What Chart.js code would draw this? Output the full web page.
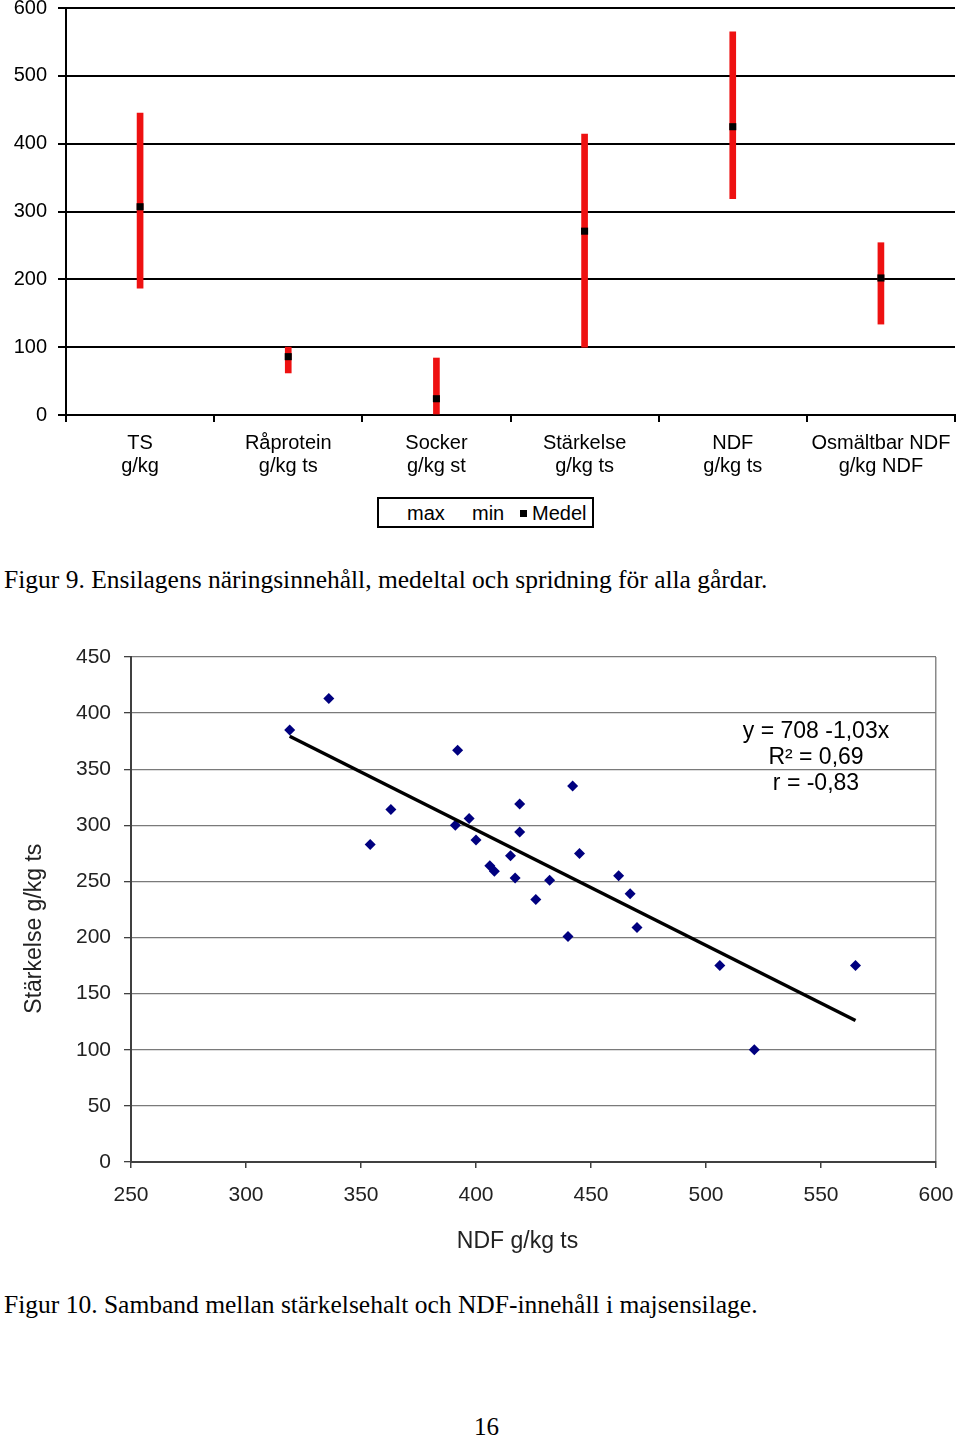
<!DOCTYPE html>
<html>
<head>
<meta charset="utf-8">
<script src="https://cdn.jsdelivr.net/npm/chart.js@4"></script>
<style>
  html, body { margin:0; padding:0; background:#fff; }
  body { width:960px; height:1438px; position:relative; overflow:hidden; font-family:"Liberation Sans", Arial, sans-serif; }
  .abs { position:absolute; }
  #c1wrap { left:0; top:0; width:960px; height:480px; }
  #c2wrap { left:0; top:640px; width:960px; height:620px; }
  #legend { left:377px; top:497px; width:213px; height:27px; border:2px solid #000; font-size:20px; color:#000; }
  #legend span { position:absolute; top:3px; }
  #legend .mk { position:absolute; top:11px; width:7px; height:7px; background:#000; }
  .cap { font-family:"Liberation Serif", "Times New Roman", serif; color:#000; white-space:nowrap; line-height:30px; }
  #eq { left:716px; top:717px; width:200px; text-align:center; font-size:23px; line-height:26px; color:#000; }
</style>
</head>
<body>
<div id="c1wrap" class="abs"><canvas id="c1" width="960" height="480"></canvas></div>
<div id="legend" class="abs"><span style="left:28px">max</span><span style="left:93px">min</span><div class="mk" style="left:141px"></div><span style="left:153px">Medel</span></div>
<div class="abs cap" style="left:4px; top:565px; font-size:25.5px;">Figur 9. Ensilagens näringsinnehåll, medeltal och spridning för alla gårdar.</div>
<div id="c2wrap" class="abs"><canvas id="c2" width="960" height="620"></canvas></div>
<div id="eq" class="abs">y = 708 -1,03x<br>R² = 0,69<br>r = -0,83</div>
<div class="abs cap" style="left:4px; top:1290px; font-size:25.5px;">Figur 10. Samband mellan stärkelsehalt och NDF-innehåll i majsensilage.</div>
<div class="abs cap" style="left:474px; top:1412px; font-size:25px;">16</div>
<script>
// ---------- Figure 9 data ----------
const categories = [["TS","g/kg"],["Råprotein","g/kg ts"],["Socker","g/kg st"],["Stärkelse","g/kg ts"],["NDF","g/kg ts"],["Osmältbar NDF","g/kg NDF"]];
const maxValues  = [445, 100, 84, 414, 565, 254];
const minValues  = [187, 62, 0, 100, 319, 134];
const meanValues = [307, 86, 24, 271, 425, 202];
const yTicks1 = [0, 100, 200, 300, 400, 500, 600];

// ---------- Figure 10 data ----------
const ndf = [319, 336, 354, 363, 392, 391, 397, 400, 406, 408, 415, 417, 419, 419, 426, 432, 440, 442, 445, 462, 467, 470, 506, 521, 565];
const starch = [385, 413, 283, 314, 367, 300, 306, 287, 264, 259, 273, 253, 319, 294, 234, 251, 201, 335, 275, 255, 239, 209, 175, 100, 175];
const trendIntercept = 708;
const trendSlope = -1.03;
const xTicks2 = [250, 300, 350, 400, 450, 500, 550, 600];
const yTicks2 = [0, 50, 100, 150, 200, 250, 300, 350, 400, 450];

const FONT = "'Liberation Sans', Arial, sans-serif";
Chart.defaults.font.family = FONT;
Chart.defaults.color = '#000';
Chart.defaults.animation = false;

// ---------- Chart 1 ----------
new Chart(document.getElementById('c1'), {
  type: 'bar',
  data: {
    labels: categories,
    datasets: [
      { label: 'range', data: minValues.map((m, i) => [m, maxValues[i]]), backgroundColor: '#ee1111', borderWidth: 0, barThickness: 6, order: 2 },
      { type: 'line', label: 'Medel', data: meanValues, showLine: false, pointStyle: 'rect', pointRadius: 5, pointBackgroundColor: '#000', pointBorderColor: '#000', borderWidth: 0, order: 1 }
    ]
  },
  options: {
    responsive: false,
    layout: { padding: { top: 8, right: 5, left: 0, bottom: 0 } },
    plugins: { legend: { display: false }, tooltip: { enabled: false } },
    scales: {
      x: {
        offset: true,
        grid: { offset: true, drawOnChartArea: false, color: '#000', lineWidth: 2, tickLength: 7 },
        border: { color: '#000', width: 2 },
        ticks: { font: { size: 20, lineHeight: 1.15 }, color: '#000', padding: 10, maxRotation: 0, autoSkip: false },
        afterFit: s => { s.height = 65; s.paddingLeft = 0; s.paddingRight = 0; }
      },
      y: {
        min: 0, max: 600,
        afterBuildTicks: s => { s.ticks = yTicks1.map(v => ({ value: v })); },
        grid: { color: '#000', lineWidth: 2, tickLength: 8 },
        border: { color: '#000', width: 2 },
        ticks: { font: { size: 20 }, color: '#000', padding: 11 },
        afterFit: s => { s.width = 66; s.paddingTop = 0; s.paddingBottom = 0; }
      }
    }
  }
});

// ---------- Chart 2 ----------
const xMin = Math.min(...ndf), xMax = Math.max(...ndf);
new Chart(document.getElementById('c2'), {
  type: 'scatter',
  data: {
    datasets: [
      { label: 'Stärkelse', data: ndf.map((x, i) => ({ x: x, y: starch[i] })), pointStyle: 'rectRot', pointRadius: 5.5, pointBackgroundColor: '#00007f', pointBorderColor: '#00007f', borderWidth: 0, order: 2 },
      { type: 'line', label: 'trend', data: [xMin, xMax].map(x => ({ x: x, y: trendIntercept + trendSlope * x })), borderColor: '#000', borderWidth: 3.5, pointRadius: 0, showLine: true, order: 1 }
    ]
  },
  options: {
    responsive: false,
    layout: { padding: { top: 17, right: 24, left: 0, bottom: 0 } },
    plugins: { legend: { display: false }, tooltip: { enabled: false } },
    scales: {
      x: {
        type: 'linear', min: 250, max: 600,
        afterBuildTicks: s => { s.ticks = xTicks2.map(v => ({ value: v })); },
        grid: { drawOnChartArea: true, color: c => (c.tick && c.tick.value === 600 ? '#8a8a8a' : 'rgba(0,0,0,0)'), tickColor: '#404040', lineWidth: 1.5, tickLength: 6 },
        border: { color: '#404040', width: 2 },
        ticks: { font: { size: 21 }, color: '#222', padding: 15 },
        title: { display: true, text: 'NDF g/kg ts     ', font: { size: 23 }, color: '#222', padding: { top: 0, bottom: 5 } },
        afterFit: s => { s.height = 98; s.paddingLeft = 0; s.paddingRight = 0; }
      },
      y: {
        min: 0, max: 450,
        afterBuildTicks: s => { s.ticks = yTicks2.map(v => ({ value: v })); },
        grid: { color: '#7a7a7a', lineWidth: 1.3, tickLength: 7, tickColor: '#404040' },
        border: { color: '#404040', width: 2 },
        ticks: { font: { size: 21 }, color: '#222', padding: 13 },
        title: { display: true, text: 'Stärkelse g/kg ts      ', font: { size: 23 }, color: '#222', padding: { top: 21, bottom: 0 } },
        afterFit: s => { s.width = 131; s.paddingTop = 0; s.paddingBottom = 0; }
      }
    }
  }
});
</script>
</body>
</html>
